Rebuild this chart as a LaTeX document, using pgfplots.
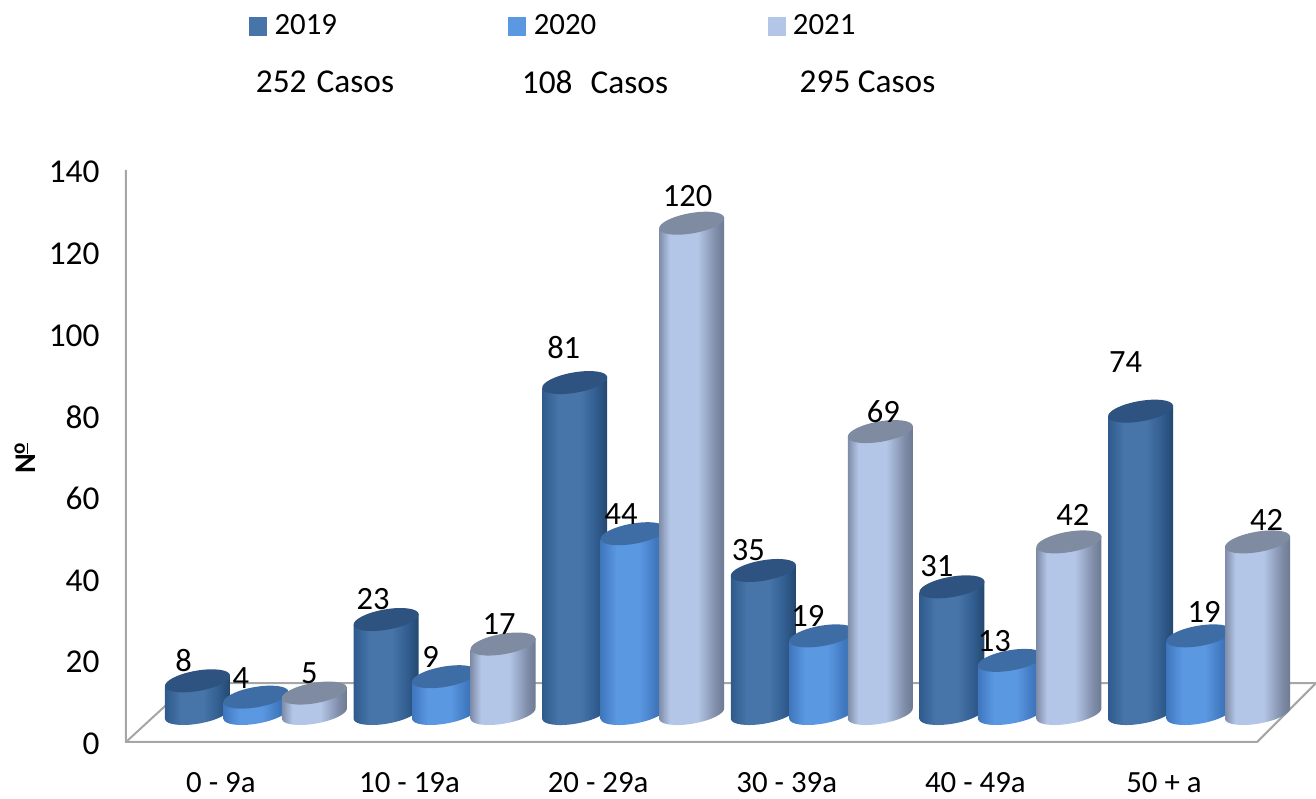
\documentclass[border=0pt]{standalone}
\usepackage{fontspec}
\usepackage{pgfplots}
\pgfplotsset{compat=1.18}
\setmainfont{Carlito}
\definecolor{a0}{HTML}{2F5A8C}\definecolor{a1}{HTML}{4775A9}\definecolor{a2}{HTML}{234669}\definecolor{topA}{HTML}{2E5380}
\definecolor{b0}{HTML}{3F77BE}\definecolor{b1}{HTML}{5B98E2}\definecolor{b2}{HTML}{3A6CA8}\definecolor{topB}{HTML}{3E6DA6}
\definecolor{c0}{HTML}{7F8CA8}\definecolor{c1}{HTML}{B4C6E7}\definecolor{c2}{HTML}{6B788F}\definecolor{topC}{HTML}{7E8BA1}
\definecolor{gl}{HTML}{A6A6A6}
\pgfdeclarehorizontalshading{cylA}{100bp}{color(0bp)=(a0);color(25bp)=(a0);color(37bp)=(a1);color(54bp)=(a1);color(67bp)=(a0);color(75bp)=(a2);color(100bp)=(a2)}
\pgfdeclarehorizontalshading{cylB}{100bp}{color(0bp)=(b0);color(25bp)=(b0);color(37bp)=(b1);color(54bp)=(b1);color(67bp)=(b0);color(75bp)=(b2);color(100bp)=(b2)}
\pgfdeclarehorizontalshading{cylC}{100bp}{color(0bp)=(c0);color(25bp)=(c0);color(33bp)=(c1);color(54bp)=(c1);color(68bp)=(c0);color(75bp)=(c2);color(100bp)=(c2)}
\newcommand\cylbody[2]{%
  \pgfmathsetmacro\cylH{\hh*4.086}%
  \path[draw=none,x=0.6pt,y=0.6pt,shading=#1] (-32.5,{-5.7-\cylH}) .. controls (-31.5,{-11.2-\cylH}) and (-16.15,{-13.15-\cylH}) .. (1.8,{-10-\cylH})
     .. controls (19.75,{-6.85-\cylH}) and (33.5,{0.2-\cylH}) .. (32.5,{5.7-\cylH}) -- (32.5,5.7) -- (-32.5,-5.7) -- cycle;
  \pgfsetfillcolor{#2}%
  \pgfpathellipse{\pgfpointorigin}{\pgfqpoint{19.5pt}{3.42pt}}{\pgfqpoint{-1.08pt}{6pt}}%
  \pgfusepath{fill}%
}
\pgfdeclareplotmark{cmA}{\cylbody{cylA}{topA}}
\pgfdeclareplotmark{cmB}{\cylbody{cylB}{topB}}
\pgfdeclareplotmark{cmC}{\cylbody{cylC}{topC}}
\pgfplotsset{/pgf/number format/assume math mode=true,
  cylplot/.style={scatter,only marks,mark=#1,point meta=y,
    visualization depends on={\thisrow{y}\as\hh},
    visualization depends on={\thisrow{dx}\as\ldx},
    visualization depends on={\thisrow{dy}\as\ldy},
    nodes near coords,
    every node near coord/.append style={anchor=center,inner sep=0pt,text=black,font=\fontsize{19.5}{21}\selectfont,xshift=\ldx*0.6pt,yshift=\ldy*0.6pt}}
}
\begin{document}
\begin{tikzpicture}[x=0.6pt,y=0.6pt]
\path[use as bounding box] (0,0) rectangle (1316,799);
\begin{axis}[
  at={(75.6pt,34.2pt)},anchor=south west,scale only axis,
  width=714pt,height=343.2pt,
  xmin=-0.689,xmax=5.62,ymin=0,ymax=140,clip=false,
  axis line style={draw=none},
  major tick length=0pt,
  xtick={-0.186,0.814,1.814,2.814,3.814,4.814},
  xticklabels={0 - 9a,10 - 19a,20 - 29a,30 - 39a,40 - 49a,50 + a},
  ytick={0,20,...,140},
  xticklabel style={font=\fontsize{18.5}{20}\selectfont,text=black,inner sep=0pt,yshift=-18.4pt},
  yticklabel style={font=\fontsize{20}{21}\selectfont,text=black,xshift=-12.4pt,yshift=-1.2pt},
  legend style={at={(0.0991,1.2517)},anchor=west,draw=none,fill=none,font=\fontsize{18.5}{20}\selectfont,
    /tikz/every even column/.append style={column sep=100.8pt}},
  legend columns=3,legend cell align=left,
  legend image code/.code={\fill[draw=none,#1] (0pt,-5.7pt) rectangle (10.8pt,5.7pt);\path[draw=none,fill=none] (0pt,0pt) -- (13.2pt,0pt);},
]
\addplot[gl,line width=1.2pt,forget plot] coordinates {(-0.689,140) (-0.689,0) (5.308,0) (5.62,14.4)};
\addplot[gl,line width=1.2pt,forget plot] coordinates {(-0.689,0) (-0.35,14.4) (5.62,14.4)};
\addlegendimage{fill=a1}\addlegendentry{2019}
\addlegendimage{fill=b1}\addlegendentry{2020}
\addlegendimage{fill=c1}\addlegendentry{2021}
\end{axis}
\begin{axis}[
  at={(75.6pt,34.2pt)},anchor=south west,scale only axis,
  width=714pt,height=343.2pt,
  xmin=-0.689,xmax=5.62,ymin=-6.975,ymax=133.025,clip=false,hide axis,
]
\addplot[cylplot=cmA] table[x=x,y=y] {
x y dx dy
-0.31 8 -14 20
0.69 23 -13 20
1.69 81 -11 35
2.69 35 -15 20
3.69 31 -15 21
4.69 74 -15 49
};
\addplot[cylplot=cmB] table[x=x,y=y] {
x y dx dy
0 4 -15 19
1 9 -14 20
2 44 -12 20
3 19 -14 20
4 13 -16 19
5 19 5 24
};
\addplot[cylplot=cmC] table[x=x,y=y] {
x y dx dy
0.31 5 -5 20
1.31 17 -4 20
2.31 120 -4 27
3.31 69 3 20
4.31 42 4 27
5.31 42 9 22
};
\end{axis}
\node[font=\fontsize{20}{21}\selectfont,inner sep=0pt] at (325,717) {252~\hspace{1.5pt}Casos};
\node[font=\fontsize{20}{21}\selectfont,inner sep=0pt] at (595,717) {108~~\hspace{1.8pt}Casos};
\node[font=\fontsize{20}{21}\selectfont,inner sep=0pt] at (867.5,717) {295 Casos};
\node[font=\bfseries\fontsize{18}{20}\selectfont,rotate=90,inner sep=0pt] at (25,341) {N\textsuperscript{\underline{o}}};
\end{tikzpicture}
\end{document}
